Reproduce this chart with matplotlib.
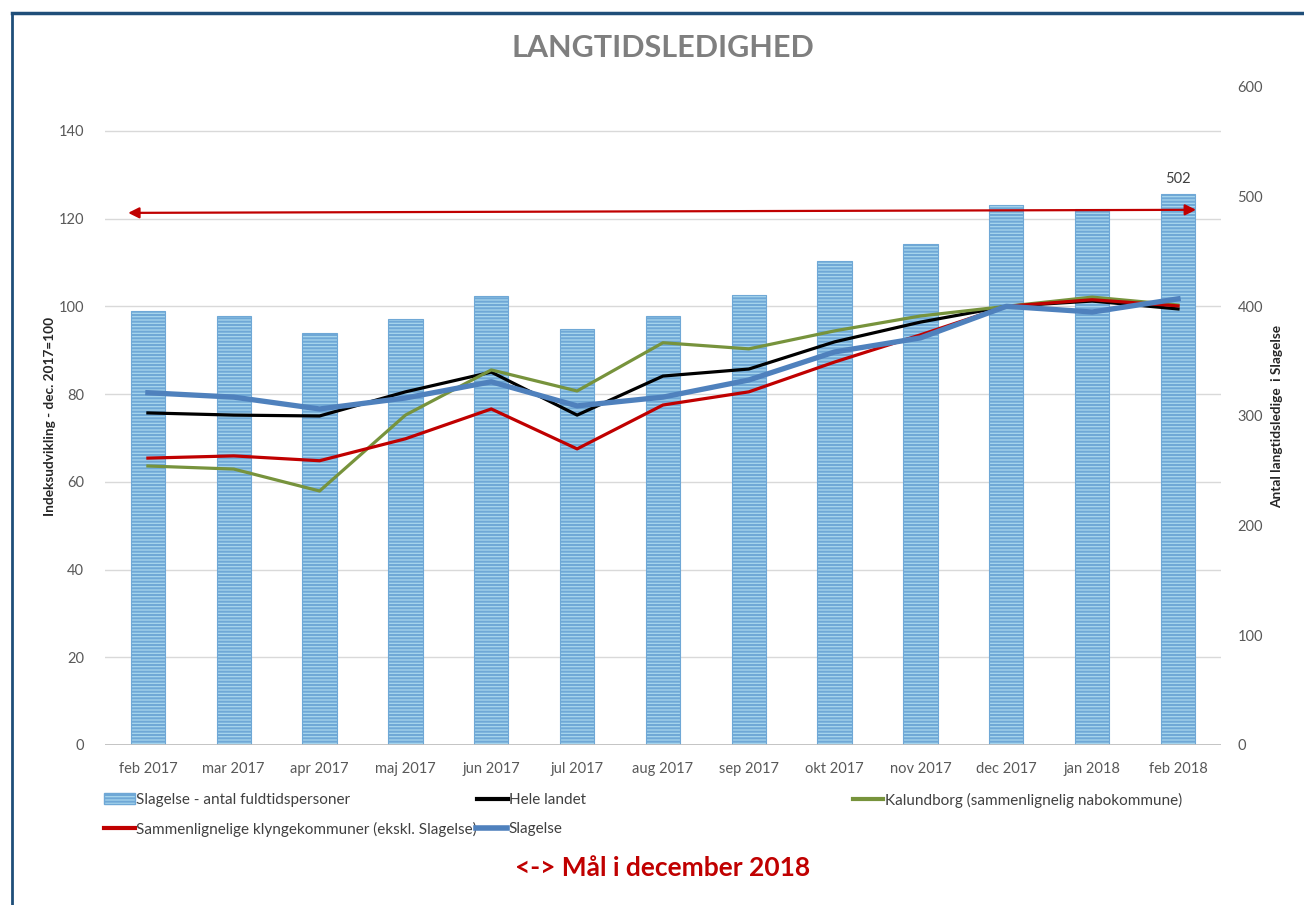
import numpy as np
import matplotlib
matplotlib.use("Agg")
import matplotlib.pyplot as plt
from matplotlib.lines import Line2D
from matplotlib.patches import Patch

# ---- data ----
months = ["feb 2017", "mar 2017", "apr 2017", "maj 2017", "jun 2017", "jul 2017",
          "aug 2017", "sep 2017", "okt 2017", "nov 2017", "dec 2017", "jan 2018", "feb 2018"]
slagelse_antal = [396, 391, 376, 388, 409, 379, 391, 410, 441, 457, 492, 489, 502]
hele_landet = [75.7, 75.2, 75.0, 80.5, 85.0, 75.2, 84.1, 85.7, 91.9, 96.4, 100.0, 101.2, 99.4]
kalundborg = [63.6, 62.9, 57.9, 75.2, 85.5, 80.7, 91.7, 90.3, 94.4, 97.8, 100.0, 102.1, 100.3]
klynge = [65.4, 65.9, 64.8, 69.8, 76.6, 67.5, 77.5, 80.5, 87.3, 93.5, 100.0, 101.5, 100.1]
slagelse_idx = [80.3, 79.3, 76.6, 79.1, 82.8, 77.3, 79.3, 83.2, 89.6, 92.8, 100.0, 98.7, 101.7]
goal_left, goal_right = 121.3, 122.0       # red "mål" arrow, left-axis units

left_ticks = [0, 20, 40, 60, 80, 100, 120, 140]
right_ticks = [0, 100, 200, 300, 400, 500, 600]

FONT = ["Lato", "DejaVu Sans"]
plt.rcParams["font.family"] = FONT
plt.rcParams["hatch.linewidth"] = 1.5
plt.rcParams["hatch.color"] = "#4a93c9"
GREY = "#595959"
BAR_FACE = "#a8d6ee"
BAR_EDGE = "#6fa8d6"

fig = plt.figure(figsize=(13.04, 9.05), dpi=100)
ax = fig.add_axes([0.0805, 0.1768, 0.8558, 0.7271])
ax2 = ax.twinx()
ax.set_zorder(ax2.get_zorder() + 1)
ax.patch.set_visible(False)

x = np.arange(len(months))

# bars on the right axis
ax2.bar(x, slagelse_antal, width=0.40, color=BAR_FACE, edgecolor=BAR_EDGE,
        linewidth=0.8, hatch="-----", zorder=2)
ax2.set_ylim(0, 600)
ax2.set_yticks(right_ticks)
ax2.text(x[-1], slagelse_antal[-1] + 8, str(slagelse_antal[-1]), ha="center", va="bottom",
         fontsize=10.5, color="#404040")

# index lines on the left axis
ax.plot(x, hele_landet, color="black", lw=2.3, label="Hele landet", zorder=3)
ax.plot(x, kalundborg, color="#77933c", lw=2.3, zorder=3,
        label="Kalundborg (sammenlignelig nabokommune)")
ax.plot(x, klynge, color="#c00000", lw=2.3, zorder=3,
        label="Sammenlignelige klyngekommuner (ekskl. Slagelse)")
ax.plot(x, slagelse_idx, color="#4f81bd", lw=3.8, label="Slagelse", zorder=4)

ax.annotate("", xy=(12.21, goal_right), xytext=(-0.23, goal_left),
            arrowprops=dict(arrowstyle="<|-|>", color="#c00000", lw=1.6,
                            mutation_scale=16, shrinkA=0, shrinkB=0), zorder=5)

ax.set_xlim(-0.5, len(months) - 0.5)
ax.set_ylim(0, 150)
ax.set_yticks(left_ticks)
ax.set_xticks(x)
ax.set_xticklabels(months)

for a in (ax, ax2):
    for s in a.spines.values():
        s.set_visible(False)
    a.tick_params(length=0, colors=GREY, labelsize=10.5)
ax.tick_params(axis="y", pad=15)
ax.tick_params(axis="x", pad=12)
ax2.tick_params(axis="y", pad=12)

ax2.grid(False)
for t in left_ticks[1:]:
    ax2.axhline(t * 4, color="#d9d9d9", lw=1, zorder=0)
ax2.axhline(0, color="#bfbfbf", lw=2, zorder=3)

fig.text(0.038, 0.54, "Indeksudvikling - dec. 2017=100", rotation=90, ha="center",
         va="center", fontsize=9.8, fontweight="bold", color="#262626")
fig.text(0.979, 0.54, "Antal langtidsledige  i Slagelse", rotation=90, ha="center",
         va="center", fontsize=9.8, fontweight="bold", color="#262626")

fig.text(0.508, 0.947, "LANGTIDSLEDIGHED", ha="center", va="center",
         fontsize=22, fontweight="bold", color="#7f7f7f")

# legend: entries placed like the Excel layout
bar_h = Patch(facecolor=BAR_FACE, edgecolor=BAR_EDGE, hatch="-----")
entries = [
    (bar_h, "Slagelse - antal fuldtidspersoner", 0.080, 0.116),
    (Line2D([], [], color="black", lw=3), "Hele landet", 0.366, 0.116),
    (Line2D([], [], color="#77933c", lw=3), "Kalundborg (sammenlignelig nabokommune)", 0.654, 0.116),
    (Line2D([], [], color="#c00000", lw=3), "Sammenlignelige klyngekommuner (ekskl. Slagelse)", 0.080, 0.084),
    (Line2D([], [], color="#4f81bd", lw=4), "Slagelse", 0.365, 0.084),
]
for h, lab, lx, ly in entries:
    lg = fig.legend([h], [lab], loc="center left", bbox_to_anchor=(lx, ly), frameon=False,
                    fontsize=11, handlelength=2.0, handletextpad=0.1, borderpad=0,
                    borderaxespad=0)
    for t in lg.get_texts():
        t.set_color("#404040")

fig.text(0.508, 0.041, "<-> Mål i december 2018", ha="center", va="center", fontsize=19,
         fontweight="bold", color="#c00000")

# dark blue frame on top and left edges
fig.add_artist(Line2D([0.009, 1.0], [0.986, 0.986], color="#1f4e79", lw=2.5))
fig.add_artist(Line2D([0.009, 0.009], [0.0, 0.986], color="#1f4e79", lw=2.0))

fig.savefig("out.png", dpi=100)
